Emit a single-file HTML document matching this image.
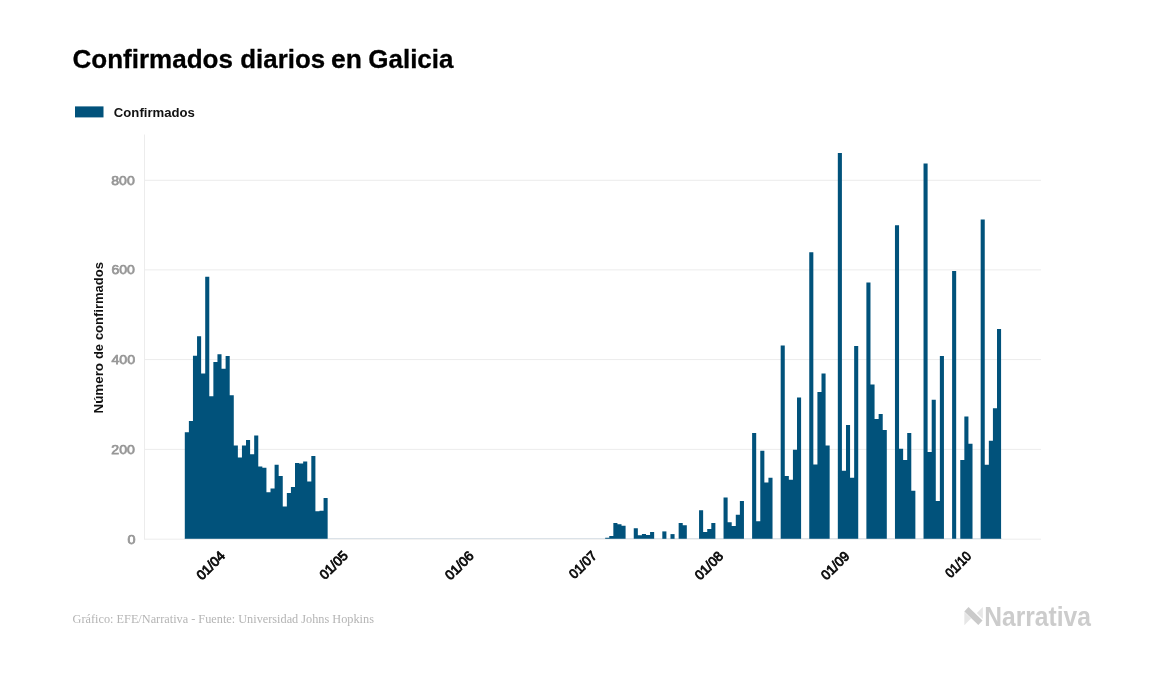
<!DOCTYPE html>
<html><head><meta charset="utf-8"><title>Confirmados diarios en Galicia</title>
<style>
html,body{margin:0;padding:0;background:#fff;}
body{width:1157px;height:674px;overflow:hidden;font-family:"Liberation Sans",sans-serif;}
svg{display:block;position:absolute;left:0;top:0;will-change:transform;filter:blur(0.4px);}
svg text{font-family:"Liberation Sans",sans-serif;}
svg text.serif{font-family:"Liberation Serif",serif;}
</style></head>
<body>
<svg width="1157" height="674" viewBox="0 0 1157 674">
<rect x="0" y="0" width="1157" height="674" fill="#ffffff"/>
<g font-size="26.5" font-weight="700" fill="#000" stroke="#000" stroke-width="0.3">
<text x="72.56" y="67.5" textLength="160.34" lengthAdjust="spacingAndGlyphs">Confirmados</text>
<text x="240.27" y="67.5" textLength="84.81" lengthAdjust="spacingAndGlyphs">diarios</text>
<text x="331.04" y="67.5" textLength="30.9" lengthAdjust="spacingAndGlyphs">en</text>
<text x="368.26" y="67.5" textLength="85.24" lengthAdjust="spacingAndGlyphs">Galicia</text>
</g>
<rect x="75" y="106.4" width="28.5" height="11" fill="#01527b"/>
<text x="113.87" y="117.0" font-size="13.7" font-weight="700" fill="#111" textLength="80.98" lengthAdjust="spacingAndGlyphs">Confirmados</text>
<g stroke="#ececec" stroke-width="1" fill="none">
<line x1="144.5" x2="1041" y1="180.3" y2="180.3"/>
<line x1="144.5" x2="1041" y1="269.9" y2="269.9"/>
<line x1="144.5" x2="1041" y1="359.6" y2="359.6"/>
<line x1="144.5" x2="1041" y1="449.4" y2="449.4"/>
<line x1="144.5" x2="1041" y1="539.2" y2="539.2"/>
</g>
<line x1="144.5" x2="144.5" y1="134.5" y2="539.7" stroke="#ececec" stroke-width="1"/>
<g font-size="13" font-weight="400" fill="#979797" stroke="#979797" stroke-width="0.75">
<text x="111.3" y="184.80" textLength="23.44" lengthAdjust="spacingAndGlyphs">800</text>
<text x="111.4" y="274.40" textLength="23.44" lengthAdjust="spacingAndGlyphs">600</text>
<text x="111.48" y="364.10" textLength="23.67" lengthAdjust="spacingAndGlyphs">400</text>
<text x="111.29" y="453.90" textLength="23.55" lengthAdjust="spacingAndGlyphs">200</text>
<text x="127.45" y="543.70" textLength="8.0" lengthAdjust="spacingAndGlyphs">0</text>
</g>
<g transform="translate(102.8,413) rotate(-90)" font-size="13.5" font-weight="700" fill="#111">
<text x="-0.5" y="0" textLength="50.52" lengthAdjust="spacingAndGlyphs">Número</text>
<text x="53.99" y="0" textLength="14.85" lengthAdjust="spacingAndGlyphs">de</text>
<text x="72.88" y="0" textLength="78.06" lengthAdjust="spacingAndGlyphs">confirmados</text>
</g>
<rect x="184.5" y="538.0" width="817.3" height="1.0" fill="#dbe2e8"/>
<g fill="#01527b">
<path d="M184.80,538.8L184.80,432.20L188.88,432.20L188.88,421.00L192.96,421.00L192.96,355.70L197.04,355.70L197.04,336.30L201.13,336.30L201.13,373.40L205.21,373.40L205.21,276.70L209.29,276.70L209.29,396.30L213.37,396.30L213.37,362.10L217.45,362.10L217.45,354.30L221.53,354.30L221.53,368.70L225.61,368.70L225.61,356.00L229.70,356.00L229.70,395.30L233.78,395.30L233.78,445.60L237.86,445.60L237.86,457.50L241.94,457.50L241.94,445.60L246.02,445.60L246.02,440.10L250.10,440.10L250.10,454.20L254.18,454.20L254.18,435.40L258.27,435.40L258.27,466.60L262.35,466.60L262.35,467.80L266.43,467.80L266.43,492.30L270.51,492.30L270.51,488.60L274.59,488.60L274.59,464.80L278.67,464.80L278.67,476.00L282.75,476.00L282.75,506.40L286.84,506.40L286.84,493.00L290.92,493.00L290.92,487.10L295.00,487.10L295.00,463.10L299.08,463.10L299.08,463.60L303.16,463.60L303.16,461.40L307.24,461.40L307.24,481.50L311.32,481.50L311.32,455.90L315.40,455.90L315.40,511.30L319.49,511.30L319.49,510.80L323.57,510.80L323.57,498.10L327.65,498.10L327.65,538.8Z"/>
<path d="M605.18,538.8L605.18,537.80L609.27,537.80L609.27,536.00L613.35,536.00L613.35,523.10L617.43,523.10L617.43,524.20L621.51,524.20L621.51,525.80L625.59,525.80L625.59,538.8Z"/>
<path d="M633.75,538.8L633.75,528.20L637.84,528.20L637.84,535.30L641.92,535.30L641.92,534.10L646.00,534.10L646.00,535.00L650.08,535.00L650.08,532.00L654.16,532.00L654.16,538.8Z"/>
<path d="M662.32,538.8L662.32,531.40L666.41,531.40L666.41,538.8Z"/>
<path d="M670.49,538.8L670.49,534.10L674.57,534.10L674.57,538.8Z"/>
<path d="M678.65,538.8L678.65,523.10L682.73,523.10L682.73,525.20L686.81,525.20L686.81,538.8Z"/>
<path d="M699.06,538.8L699.06,510.20L703.14,510.20L703.14,532.00L707.22,532.00L707.22,529.10L711.30,529.10L711.30,523.10L715.38,523.10L715.38,538.8Z"/>
<path d="M723.54,538.8L723.54,497.50L727.63,497.50L727.63,522.20L731.71,522.20L731.71,526.00L735.79,526.00L735.79,514.80L739.87,514.80L739.87,500.90L743.95,500.90L743.95,538.8Z"/>
<path d="M752.11,538.8L752.11,433.10L756.20,433.10L756.20,521.20L760.28,521.20L760.28,450.80L764.36,450.80L764.36,482.60L768.44,482.60L768.44,477.70L772.52,477.70L772.52,538.8Z"/>
<path d="M780.68,538.8L780.68,345.40L784.77,345.40L784.77,476.00L788.85,476.00L788.85,479.70L792.93,479.70L792.93,449.70L797.01,449.70L797.01,397.40L801.09,397.40L801.09,538.8Z"/>
<path d="M809.25,538.8L809.25,252.20L813.34,252.20L813.34,464.50L817.42,464.50L817.42,391.90L821.50,391.90L821.50,373.60L825.58,373.60L825.58,445.60L829.66,445.60L829.66,538.8Z"/>
<path d="M837.82,538.8L837.82,153.10L841.91,153.10L841.91,470.80L845.99,470.80L845.99,425.00L850.07,425.00L850.07,477.70L854.15,477.70L854.15,346.00L858.23,346.00L858.23,538.8Z"/>
<path d="M866.39,538.8L866.39,282.60L870.48,282.60L870.48,384.50L874.56,384.50L874.56,419.00L878.64,419.00L878.64,414.10L882.72,414.10L882.72,430.00L886.80,430.00L886.80,538.8Z"/>
<path d="M894.96,538.8L894.96,225.20L899.05,225.20L899.05,448.70L903.13,448.70L903.13,460.10L907.21,460.10L907.21,433.10L911.29,433.10L911.29,490.80L915.37,490.80L915.37,538.8Z"/>
<path d="M923.53,538.8L923.53,163.50L927.61,163.50L927.61,452.00L931.70,452.00L931.70,399.80L935.78,399.80L935.78,500.90L939.86,500.90L939.86,356.00L943.94,356.00L943.94,538.8Z"/>
<path d="M952.10,538.8L952.10,271.00L956.18,271.00L956.18,538.8Z"/>
<path d="M960.27,538.8L960.27,460.10L964.35,460.10L964.35,416.40L968.43,416.40L968.43,443.80L972.51,443.80L972.51,538.8Z"/>
<path d="M980.67,538.8L980.67,219.60L984.75,219.60L984.75,464.80L988.84,464.80L988.84,440.80L992.92,440.80L992.92,408.20L997.00,408.20L997.00,328.90L1001.08,328.90L1001.08,538.8Z"/>
</g>
<g font-size="13.5" font-weight="400" fill="#0c0c0c" stroke="#0c0c0c" stroke-width="0.85">
<text transform="translate(201.88,580.78) rotate(-45)" textLength="34.09" lengthAdjust="spacingAndGlyphs">01/04</text>
<text transform="translate(324.94,580.26) rotate(-45)" textLength="33.58" lengthAdjust="spacingAndGlyphs">01/05</text>
<text transform="translate(450.60,580.78) rotate(-45)" textLength="33.99" lengthAdjust="spacingAndGlyphs">01/06</text>
<text transform="translate(574.60,579.56) rotate(-45)" textLength="32.39" lengthAdjust="spacingAndGlyphs">01/07</text>
<text transform="translate(700.32,580.78) rotate(-45)" textLength="33.59" lengthAdjust="spacingAndGlyphs">01/08</text>
<text transform="translate(826.38,580.78) rotate(-45)" textLength="33.78" lengthAdjust="spacingAndGlyphs">01/09</text>
<text transform="translate(950.66,578.50) rotate(-45)" textLength="30.38" lengthAdjust="spacingAndGlyphs">01/10</text>
</g>
<text class="serif" x="72.6" y="622.9" font-size="13" fill="#b4b4b4" textLength="301.33" lengthAdjust="spacingAndGlyphs">Gráfico: EFE/Narrativa - Fuente: Universidad Johns Hopkins</text>
<g>
<polygon points="964.3,611.9 964.3,625.2 971,618.5" fill="#e6e6e6"/>
<polygon points="982.8,607.1 982.8,619 976.8,613" fill="#e6e6e6"/>
<polygon points="968.5,607.1 964.3,611.4 978.3,624.9 982.5,620.4" fill="#cacaca"/>
<text x="984.3" y="625.9" font-size="27" font-weight="700" fill="#cccccc" textLength="106.6" lengthAdjust="spacingAndGlyphs">Narrativa</text>
</g>
</svg>
</body></html>
